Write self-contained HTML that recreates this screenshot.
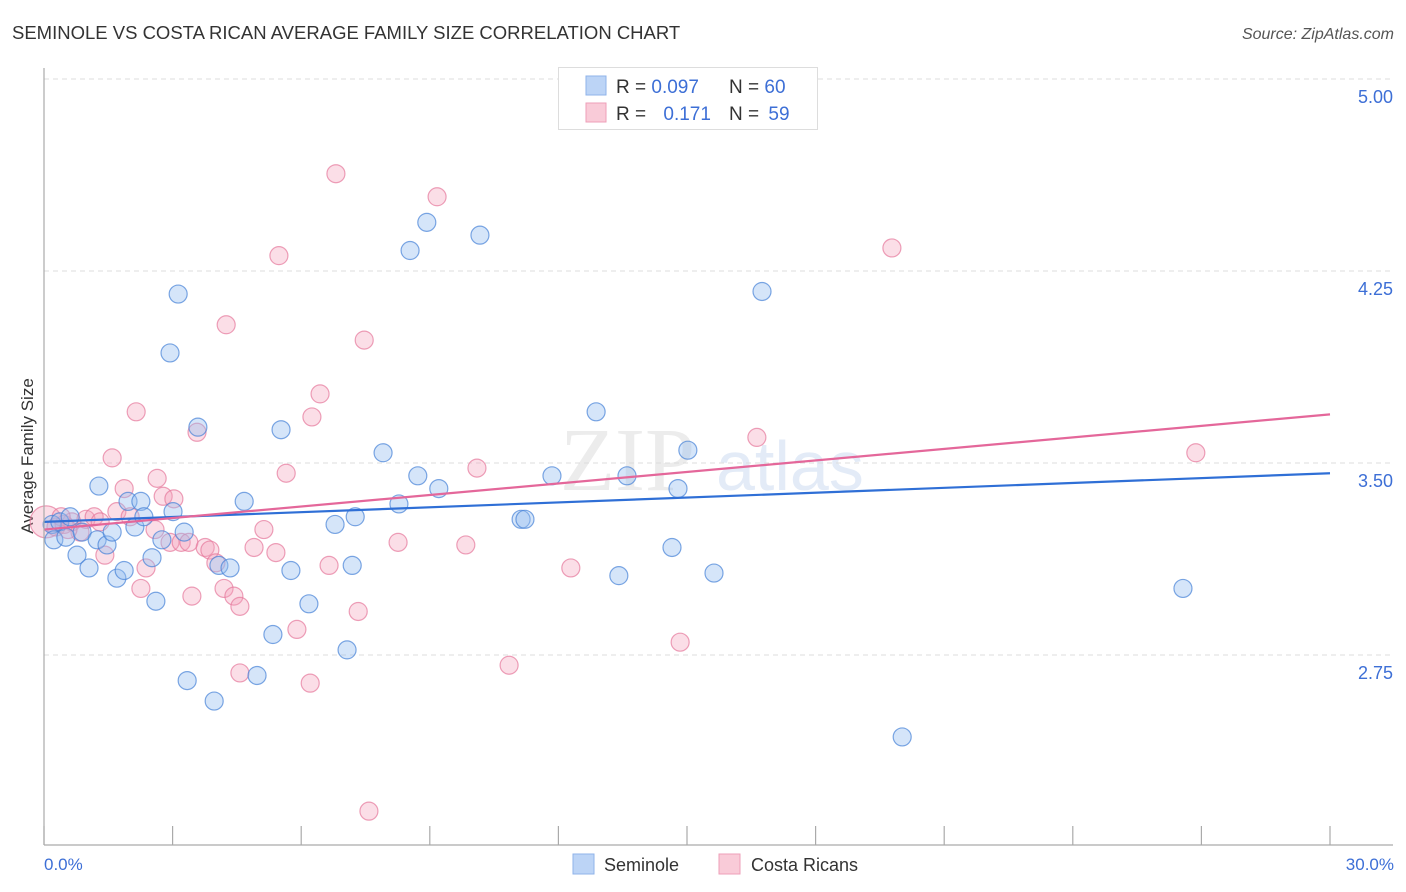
<!DOCTYPE html>
<html><head><meta charset="utf-8">
<style>
body{margin:0;background:#fff;font-family:"Liberation Sans",sans-serif;}
#wrap{position:relative;width:1406px;height:892px;overflow:hidden;}
</style></head>
<body><div id="wrap">
<svg id="svg" width="1406" height="892" xmlns="http://www.w3.org/2000/svg">
<text x="12" y="39" font-size="18.5" fill="#333">SEMINOLE VS COSTA RICAN AVERAGE FAMILY SIZE CORRELATION CHART</text>
<text x="1394" y="39" font-size="16" fill="#555" font-style="italic" text-anchor="end">Source: ZipAtlas.com</text>
<text x="0" y="0" transform="translate(33,456) rotate(-90)" font-size="17" fill="#333" text-anchor="middle">Average Family Size</text>
<text x="560" y="490" font-size="90" fill="#ececec" font-family="Liberation Serif">ZIP</text>
<text x="716" y="490" font-size="70" fill="#e3ebf7">atlas</text>
<g id="grid"></g><g id="pts"></g><g id="trends"></g>
<line x1="44" y1="68" x2="44" y2="845" stroke="#aaa" stroke-width="1.2"/>
<line x1="44" y1="845" x2="1393" y2="845" stroke="#aaa" stroke-width="1.2"/>
<g id="xticks"></g>
<text x="44" y="870" font-size="17" fill="#3d6fd6">0.0%</text>
<text x="1394" y="870" font-size="17" fill="#3d6fd6" text-anchor="end">30.0%</text>
<g>
<rect x="558.5" y="67.5" width="259" height="62" fill="#fff" stroke="#ddd"/>
<rect x="586" y="76" width="20" height="19" fill="#bcd4f6" stroke="#8fb3ea"/>
<rect x="586" y="103" width="20" height="19" fill="#f9cbd8" stroke="#ee9fb8"/>
<text x="616" y="93" font-size="19" fill="#333">R = <tspan fill="#3d6fd6">0.097</tspan></text>
<text x="729" y="93" font-size="19" fill="#333">N = <tspan fill="#3d6fd6">60</tspan></text>
<text x="616" y="120" font-size="19" fill="#333">R = <tspan fill="#3d6fd6" dx="12">0.171</tspan></text>
<text x="729" y="120" font-size="19" fill="#333">N = <tspan fill="#3d6fd6" dx="4">59</tspan></text>
</g>
<g>
<rect x="573" y="854" width="21" height="20" fill="#bcd4f6" stroke="#8fb3ea"/>
<text x="604" y="871" font-size="18" fill="#333">Seminole</text>
<rect x="719" y="854" width="21" height="20" fill="#f9cbd8" stroke="#ee9fb8"/>
<text x="751" y="871" font-size="18" fill="#333">Costa Ricans</text>
</g>
</svg>
<script>
const yTicks=[5.00,4.25,3.50,2.75];
const yTickLabels=["5.00","4.25","3.50","2.75"];
const xTickValues=[0,3,6,9,12,15,18,21,24,27,30];
const semX=[0.19,0.23,0.37,0.51,0.61,0.77,0.89,1.05,1.28,1.24,1.47,1.59,1.70,1.87,1.96,2.12,2.26,2.33,2.52,2.61,2.75,2.94,3.13,3.27,3.34,3.59,3.97,4.08,4.34,4.67,4.97,5.34,5.53,5.76,6.18,6.79,7.07,7.19,7.26,7.91,8.28,8.54,8.72,8.93,9.21,10.17,11.13,11.22,11.85,12.88,13.41,13.60,14.65,14.79,15.02,15.63,16.75,20.02,26.57,3.01];
const semY=[3.26,3.20,3.27,3.21,3.29,3.14,3.23,3.09,3.41,3.20,3.18,3.23,3.05,3.08,3.35,3.25,3.35,3.29,3.13,2.96,3.20,3.93,4.16,3.23,2.65,3.64,2.57,3.10,3.09,3.35,2.67,2.83,3.63,3.08,2.95,3.26,2.77,3.10,3.29,3.54,3.34,4.33,3.45,4.44,3.40,4.39,3.28,3.28,3.45,3.70,3.06,3.45,3.17,3.40,3.55,3.07,4.17,2.43,3.01,3.31];
const crX=[0.05,0.28,0.47,0.65,0.84,0.98,1.17,1.31,1.42,1.59,1.70,1.87,2.01,2.15,2.26,2.38,2.59,2.64,2.78,2.94,3.03,3.20,3.38,3.45,3.57,3.76,3.87,4.01,4.20,4.25,4.43,4.57,4.57,4.90,5.13,5.41,5.48,5.65,5.90,6.21,6.25,6.44,6.65,6.81,7.33,7.47,7.58,8.26,9.17,9.84,10.10,10.85,12.29,14.84,16.63,19.78,26.87,0.40,0.56];
const crY=[3.27,3.25,3.26,3.27,3.23,3.28,3.29,3.27,3.14,3.52,3.31,3.40,3.29,3.70,3.01,3.09,3.24,3.44,3.37,3.19,3.36,3.19,3.19,2.98,3.62,3.17,3.16,3.11,3.01,4.04,2.98,2.94,2.68,3.17,3.24,3.15,4.31,3.46,2.85,2.64,3.68,3.77,3.10,4.63,2.92,3.98,2.14,3.19,4.54,3.18,3.48,2.71,3.09,2.80,3.60,4.34,3.54,3.29,3.24];
const semTrend=[3.27,3.46];
const crTrend=[3.24,3.69];
const NS="http://www.w3.org/2000/svg";
function sx(v){return 44+v/30*1286;}
function sy(v){return 79+(5-v)*256;}
function mk(tag,attrs,parent){const e=document.createElementNS(NS,tag);for(const k in attrs)e.setAttribute(k,attrs[k]);document.getElementById(parent).appendChild(e);return e;}
yTicks.forEach((t,i)=>{
 const l=mk('line',{x1:44,x2:1393,y1:sy(t),y2:sy(t),stroke:'#ddd','stroke-dasharray':'5,4'},'grid');
 
 
 const tx=mk('text',{x:1393,y:sy(t)+24,'font-size':18,fill:'#3d6fd6','text-anchor':'end'},'grid');
 tx.textContent=yTickLabels[i];
 
 
});
xTickValues.forEach(v=>{
 const l=mk('line',{x1:sx(v),x2:sx(v),y1:826,y2:845,stroke:'#aaa','stroke-width':1.2},'xticks');
 
 
});
crX.forEach((x,i)=>{
 const c=mk('circle',{cx:sx(x),cy:sy(crY[i]),r:i===0?16:9,fill:'rgba(244,160,186,0.35)',stroke:'rgba(230,120,155,0.7)','stroke-width':1.2},'pts');
 
 
});
semX.forEach((x,i)=>{
 const c=mk('circle',{cx:sx(x),cy:sy(semY[i]),r:9,fill:'rgba(150,190,240,0.4)',stroke:'rgba(70,130,215,0.7)','stroke-width':1.2},'pts');
 
 
});
const t1=mk('line',{x1:sx(0),x2:sx(30),y1:sy(semTrend[0]),y2:sy(semTrend[1]),stroke:'#2f6fd6','stroke-width':2.2},'trends');


const t2=mk('line',{x1:sx(0),x2:sx(30),y1:sy(crTrend[0]),y2:sy(crTrend[1]),stroke:'#e4679a','stroke-width':2.2},'trends');


</script>
</div></body></html>
